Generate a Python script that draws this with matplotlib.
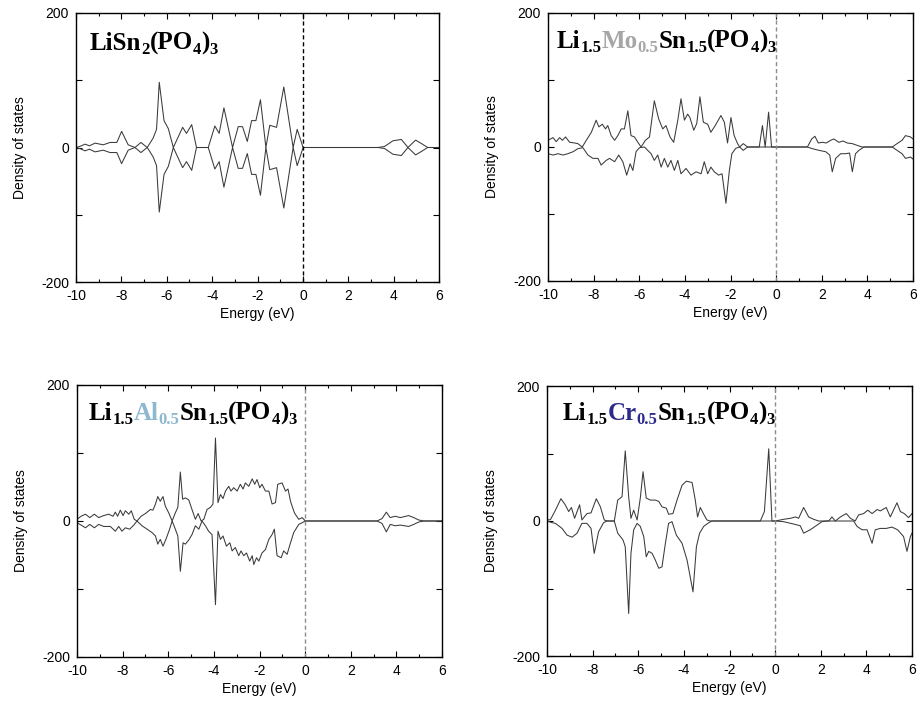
import matplotlib
matplotlib.use("Agg")
import matplotlib.pyplot as plt
from matplotlib.ticker import MultipleLocator

# ---------------- data (energy eV, density of states) ----------------
p1_up = [(-10, 0), (-9.8, 2), (-9.6, 5), (-9.41, 2.5), (-9.16, 6.5), (-8.8, 4), (-8.5, 7.5),
         (-8.2, 7.5), (-7.99, 24), (-7.7, 4), (-7.4, 0), (-7.14, 7.5), (-6.86, 0), (-6.6, 14),
         (-6.45, 27), (-6.33, 97), (-6.12, 40), (-5.93, 28), (-5.71, 0), (-5.3, 30), (-5.13, 21),
         (-4.9, 34), (-4.69, 0), (-4.17, 0), (-3.88, 32), (-3.69, 21), (-3.48, 59), (-3.1, 0),
         (-2.85, 31), (-2.66, 31), (-2.45, 9), (-2.26, 40), (-2.07, 40), (-1.87, 71), (-1.63, 0),
         (-1.46, 33), (-1.16, 30), (-0.84, 90), (-0.43, 0), (-0.25, 27), (0.01, 0), (3.31, 0),
         (3.6, 1.5), (3.97, 10), (4.34, 12), (4.63, 0), (4.97, 11), (5.22, 6), (5.5, 0), (6.0, 0)]
p1_dn = [(-10, 0), (-9.8, -2), (-9.6, -5), (-9.41, -2.5), (-9.16, -6.5), (-8.8, -4), (-8.5, -7.5),
         (-8.2, -7.5), (-7.99, -24), (-7.7, -4), (-7.4, 0), (-7.14, -7.5), (-6.86, 0), (-6.6, -14),
         (-6.45, -27), (-6.33, -96), (-6.12, -40), (-5.93, -28), (-5.71, 0), (-5.3, -30), (-5.13, -21),
         (-4.9, -34), (-4.69, 0), (-4.17, 0), (-3.88, -32), (-3.69, -21), (-3.48, -59), (-3.1, 0),
         (-2.85, -31), (-2.66, -31), (-2.45, -9), (-2.26, -40), (-2.07, -40), (-1.87, -71), (-1.63, 0),
         (-1.46, -33), (-1.16, -30), (-0.84, -90), (-0.43, 0), (-0.25, -27), (0.01, 0), (3.31, 0),
         (3.6, -1.5), (3.97, -10), (4.34, -12), (4.63, 0), (4.97, -11), (5.22, -6), (5.5, 0), (6.0, 0)]

p2_up = [(-10, 10), (-9.78, 14), (-9.64, 8), (-9.49, 14), (-9.37, 10), (-9.23, 15), (-9.05, 7),
         (-8.83, 6), (-8.69, 5), (-8.5, 0), (-8.32, 10), (-8.1, 22), (-7.89, 40), (-7.77, 30),
         (-7.62, 34), (-7.48, 27), (-7.38, 32), (-7.23, 17), (-7.08, 10), (-6.94, 17), (-6.79, 27),
         (-6.65, 27), (-6.5, 54), (-6.36, 17), (-6.21, 15), (-6.06, 7), (-5.92, 0), (-5.73, 10),
         (-5.55, 15), (-5.34, 69), (-5.15, 42), (-4.97, 27), (-4.83, 32), (-4.65, 15), (-4.49, 7),
         (-4.31, 40), (-4.17, 72), (-4.02, 40), (-3.88, 49), (-3.78, 44), (-3.61, 25), (-3.48, 35),
         (-3.34, 75), (-3.19, 37), (-3.0, 34), (-2.86, 22), (-2.67, 32), (-2.42, 47), (-2.27, 37),
         (-2.13, 6), (-1.98, 44), (-1.84, 17), (-1.69, 5), (-1.6, 0), (-1.44, 5), (-1.25, 0),
         (-0.74, 0), (-0.6, 32), (-0.48, 0), (-0.33, 52), (-0.2, 0), (1.37, 0), (1.56, 12),
         (1.70, 16), (1.85, 6), (2.02, 7), (2.2, 6), (2.39, 10), (2.53, 12), (2.75, 7), (2.93, 9),
         (3.12, 6), (3.34, 5), (3.55, 2.5), (3.77, 0), (5.09, 0), (5.3, 5), (5.52, 10), (5.67, 17),
         (5.89, 15), (6.0, 12)]
p2_dn = [(-10, -10), (-9.78, -12), (-9.56, -10), (-9.34, -12), (-9.13, -10), (-8.9, -7), (-8.69, -2.5),
         (-8.47, -1), (-8.25, -12), (-8.03, -17), (-7.81, -17), (-7.67, -27), (-7.45, -20), (-7.3, -17),
         (-7.08, -22), (-6.9, -12), (-6.72, -22), (-6.55, -42), (-6.4, -25), (-6.28, -35), (-6.14, -7),
         (-5.99, -1), (-5.77, 0), (-5.63, -5), (-5.48, -10), (-5.34, -20), (-5.19, -12), (-5.04, -30),
         (-4.9, -17), (-4.75, -30), (-4.61, -20), (-4.46, -35), (-4.31, -20), (-4.17, -40), (-3.95, -32),
         (-3.73, -42), (-3.51, -37), (-3.29, -40), (-3.15, -22), (-3.0, -40), (-2.86, -30), (-2.71, -37),
         (-2.52, -42), (-2.37, -40), (-2.2, -84), (-2.05, -35), (-1.94, -10), (-1.77, -2), (-1.6, 0),
         (-1.44, -5), (-1.25, 0), (1.37, 0), (1.59, -2.5), (1.88, -5), (2.17, -7), (2.35, -12),
         (2.46, -37), (2.61, -17), (2.83, -10), (3.04, -10), (3.22, -9), (3.34, -37), (3.48, -10),
         (3.63, -5), (3.85, 0), (5.09, 0), (5.3, -5), (5.52, -10), (5.67, -17), (5.89, -15), (6.0, -18)]

p3_up = [(-10, 2.5), (-9.82, 7), (-9.63, 10), (-9.44, 5), (-9.24, 10), (-9.05, 5), (-8.83, 8),
         (-8.61, 10), (-8.42, 7), (-8.32, 13), (-8.22, 7), (-8.1, 16), (-7.98, 8), (-7.88, 15),
         (-7.73, 10), (-7.62, 15), (-7.49, 2.5), (-7.37, 0), (-7.19, 7), (-7.0, 11), (-6.78, 17),
         (-6.67, 16), (-6.56, 25), (-6.46, 36), (-6.35, 29), (-6.23, 36), (-6.13, 22), (-5.98, 12),
         (-5.83, 0), (-5.69, 12), (-5.58, 20), (-5.47, 72), (-5.37, 32), (-5.25, 34), (-5.1, 31),
         (-4.96, 17), (-4.81, 2.5), (-4.69, 11), (-4.56, 0), (-4.44, 2.5), (-4.3, 17), (-4.15, 20),
         (-4.04, 25), (-3.93, 122), (-3.82, 27), (-3.71, 39), (-3.6, 33), (-3.49, 44), (-3.35, 51),
         (-3.25, 44), (-3.13, 49), (-2.98, 44), (-2.84, 54), (-2.72, 47), (-2.62, 56), (-2.47, 51),
         (-2.32, 62), (-2.21, 54), (-2.11, 61), (-1.99, 49), (-1.89, 54), (-1.74, 44), (-1.59, 44),
         (-1.45, 25), (-1.3, 27), (-1.2, 54), (-1.01, 56), (-0.86, 44), (-0.75, 47), (-0.64, 29),
         (-0.47, 12), (-0.28, 2.5), (-0.13, 5), (0.01, 0), (3.15, 0), (3.37, 3.5), (3.56, 13),
         (3.73, 5), (3.95, 7), (4.17, 5), (4.54, 8), (4.76, 5), (4.98, 1.5), (5.2, 0), (6.0, 0)]
p3_dn = [(-10, -2.5), (-9.82, -6), (-9.63, -10), (-9.44, -5), (-9.24, -10), (-9.05, -5), (-8.83, -8),
         (-8.54, -8), (-8.32, -15), (-8.17, -8), (-8.03, -15), (-7.88, -10), (-7.69, -12), (-7.51, -6),
         (-7.37, 0), (-7.15, -7), (-6.93, -12), (-6.71, -17), (-6.56, -22), (-6.46, -34), (-6.35, -27),
         (-6.23, -37), (-6.08, -25), (-5.94, -12), (-5.83, 0), (-5.69, -12), (-5.58, -22), (-5.47, -74),
         (-5.35, -32), (-5.25, -34), (-5.1, -28), (-4.96, -20), (-4.81, -7), (-4.66, -12), (-4.52, 0),
         (-4.37, -7), (-4.23, -15), (-4.08, -20), (-3.93, -123), (-3.82, -15), (-3.71, -27), (-3.6, -22),
         (-3.45, -37), (-3.3, -32), (-3.2, -44), (-3.06, -39), (-2.91, -51), (-2.81, -44), (-2.69, -51),
         (-2.57, -47), (-2.43, -59), (-2.32, -51), (-2.25, -64), (-2.13, -54), (-2.03, -59), (-1.89, -47),
         (-1.74, -42), (-1.59, -27), (-1.45, -20), (-1.35, -12), (-1.23, -51), (-1.05, -54), (-0.94, -44),
         (-0.79, -49), (-0.64, -32), (-0.5, -17), (-0.28, -5), (-0.13, -2.5), (0.01, 0), (3.15, 0),
         (3.37, -3.5), (3.56, -16), (3.73, -5), (3.95, -7), (4.17, -6), (4.54, -8), (4.76, -5),
         (4.98, -1.5), (5.2, 0), (6.0, 0)]

p4_up = [(-10, 1.5), (-9.85, 2), (-9.63, 16), (-9.39, 33), (-9.2, 24), (-9.05, 14), (-8.93, 20),
         (-8.79, 4), (-8.57, 24), (-8.47, 1.5), (-8.25, 11), (-8.07, 12), (-7.84, 33), (-7.66, 21),
         (-7.49, 1.5), (-7.37, 0), (-7.05, 0), (-6.9, 31), (-6.71, 36), (-6.57, 104), (-6.42, 36),
         (-6.32, 4), (-6.2, 16), (-6.05, 1.5), (-5.91, 34), (-5.79, 73), (-5.65, 34), (-5.47, 31),
         (-5.25, 31), (-5.1, 29), (-4.96, 21), (-4.77, 19), (-4.67, 10), (-4.48, 11), (-4.3, 31),
         (-4.08, 53), (-3.89, 59), (-3.64, 57), (-3.5, 31), (-3.4, 6), (-3.28, 20), (-3.13, 10),
         (-2.99, 1.5), (-2.84, 0), (-0.65, 0), (-0.47, 14), (-0.28, 107), (-0.14, 0), (0.01, 0),
         (0.37, 2.5), (0.67, 4), (0.89, 6), (1.03, 4), (1.25, 20), (1.47, 6), (1.69, 2.5), (1.91, 0),
         (2.35, 0), (2.49, 6), (2.64, 0), (2.86, 6), (3.12, 11), (3.3, 4), (3.51, 0), (3.66, 9),
         (3.88, 11), (4.06, 16), (4.25, 11), (4.47, 17), (4.61, 15), (4.87, 20), (5.05, 6), (5.34, 27),
         (5.49, 14), (5.66, 11), (5.85, 5), (6.0, 11)]
p4_dn = [(-10, 0), (-9.78, -2.5), (-9.63, -3.5), (-9.34, -11), (-9.12, -21), (-8.9, -24), (-8.68, -18),
         (-8.47, -3.5), (-8.25, -3.5), (-8.07, -11), (-7.93, -48), (-7.74, -16), (-7.52, -2.5), (-7.37, 0),
         (-7.05, 0), (-6.9, -18), (-6.67, -28), (-6.57, -38), (-6.42, -137), (-6.32, -48), (-6.2, -13),
         (-6.05, -3.5), (-5.91, -8), (-5.76, -23), (-5.65, -53), (-5.54, -45), (-5.39, -48), (-5.25, -58),
         (-5.1, -70), (-4.96, -68), (-4.81, -33), (-4.67, -3.5), (-4.52, -1), (-4.33, -21), (-4.08, -33),
         (-3.86, -58), (-3.6, -105), (-3.45, -38), (-3.31, -18), (-3.13, -8), (-2.91, -2.5), (-2.77, 0),
         (0.01, 0), (0.37, -1), (0.81, -4.5), (1.1, -7), (1.25, -18), (1.54, -13), (1.84, -6),
         (2.05, -1), (2.27, 0), (3.44, 0), (3.59, -8), (3.81, -13), (4.03, -13), (4.25, -33),
         (4.39, -13), (4.61, -11), (4.87, -11), (5.12, -9), (5.37, -13), (5.63, -23), (5.78, -45),
         (5.93, -23), (6.0, -18)]

x_ticks = [-10, -8, -6, -4, -2, 0, 2, 4, 6]
y_ticks = [-200, -100, 0, 100, 200]
y_ticklabels = ["-200", "", "0", "", "200"]
x_label = "Energy (eV)"
y_label = "Density of states"

BLACK = "black"
titles = [
    [("LiSn", BLACK, False), ("2", BLACK, True), ("(PO", BLACK, False), ("4", BLACK, True),
     (")", BLACK, False), ("3", BLACK, True)],
    [("Li", BLACK, False), ("1.5", BLACK, True), ("Mo", "#a6a6a6", False), ("0.5", "#a6a6a6", True),
     ("Sn", BLACK, False), ("1.5", BLACK, True), ("(PO", BLACK, False), ("4", BLACK, True),
     (")", BLACK, False), ("3", BLACK, True)],
    [("Li", BLACK, False), ("1.5", BLACK, True), ("Al", "#8db8d0", False), ("0.5", "#8db8d0", True),
     ("Sn", BLACK, False), ("1.5", BLACK, True), ("(PO", BLACK, False), ("4", BLACK, True),
     (")", BLACK, False), ("3", BLACK, True)],
    [("Li", BLACK, False), ("1.5", BLACK, True), ("Cr", "#2e2a8c", False), ("0.5", "#2e2a8c", True),
     ("Sn", BLACK, False), ("1.5", BLACK, True), ("(PO", BLACK, False), ("4", BLACK, True),
     (")", BLACK, False), ("3", BLACK, True)],
]

# ---------------- layout ----------------
W, H = 919, 710
plt.rcParams["font.family"] = ["Liberation Sans", "DejaVu Sans"]
plt.rcParams["axes.unicode_minus"] = False
fig = plt.figure(figsize=(W / 100, H / 100), dpi=100)
fig.patch.set_facecolor("white")

# axes boxes in pixels: left, top, right, bottom
boxes = [(76, 13, 439, 282), (548, 13, 913, 281), (77, 385, 442, 657), (547, 386, 912, 656)]
title_pos = [(90, 50), (557, 48), (89, 420), (563, 420)]
zero_colors = ["black", "#8c8c8c", "#8c8c8c", "#8c8c8c"]
series = [(p1_up, p1_dn), (p2_up, p2_dn), (p3_up, p3_dn), (p4_up, p4_dn)]

for i, (l, t, r, b) in enumerate(boxes):
    ax = fig.add_axes([l / W, 1 - b / H, (r - l) / W, (b - t) / H])
    up, dn = series[i]
    ax.plot([p[0] for p in up], [p[1] for p in up], color="#3a3a3a", lw=0.75)
    ax.plot([p[0] for p in dn], [p[1] for p in dn], color="#3a3a3a", lw=0.75)
    ax.axvline(0, color=zero_colors[i], lw=1.0, linestyle=(0, (3, 2)))
    ax.set_xlim(-10, 6)
    ax.set_ylim(-200, 200)
    ax.set_xticks(x_ticks)
    ax.xaxis.set_minor_locator(MultipleLocator(1))
    ax.set_yticks(y_ticks)
    ax.set_yticklabels(y_ticklabels)
    ax.tick_params(which="both", direction="in", top=True, right=True, labelsize=10,
                   colors="black", width=0.8)
    ax.tick_params(which="major", length=4, pad=5)
    ax.tick_params(which="minor", length=2.5)
    for s in ax.spines.values():
        s.set_linewidth(1.0)
        s.set_color("black")
    ax.set_xlabel(x_label, fontsize=10, labelpad=3)
    ax.set_ylabel(y_label, fontsize=10, labelpad=10)

fig.canvas.draw()
renderer = fig.canvas.get_renderer()

for i, pieces in enumerate(titles):
    x, yb = title_pos[i]
    y = H - yb
    for s, col, sub in pieces:
        fs = 12 if sub else 18
        yy = y - 4 if sub else y
        t = fig.text(x / W, yy / H, s, fontsize=fs, color=col, fontweight="bold",
                     family=["Liberation Serif", "DejaVu Serif"], ha="left", va="baseline")
        x += t.get_window_extent(renderer).width

fig.savefig("out.png", dpi=100, facecolor="white")
